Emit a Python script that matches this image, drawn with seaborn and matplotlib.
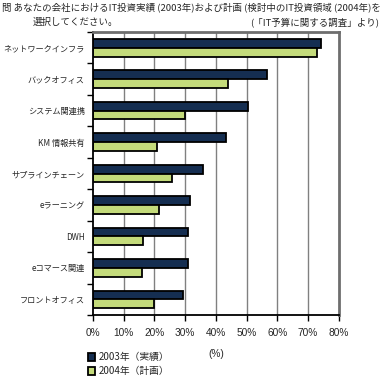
import pandas as pd
import matplotlib
matplotlib.use("Agg")
import matplotlib.pyplot as plt
import seaborn as sns
from matplotlib.ticker import FixedLocator, PercentFormatter

# Categories and values (percent)
categories = ["ネットワークインフラ", "バックオフィス", "システム関連携", "KM 情報共有",
              "サプラインチェーン", "eラーニング", "DWH", "eコマース関連", "フロントオフィス"]
actual_2003 = [74.3, 56.5, 50.3, 43.2, 35.7, 31.7, 31.0, 30.8, 29.2]
plan_2004 = [72.9, 44.0, 29.9, 20.8, 25.6, 21.6, 16.2, 15.9, 20.0]
series_names = ["2003年（実績）", "2004年（計画）"]
colors = ["#0b2d5b", "#cceb6b"]

df = pd.DataFrame({
    "category": categories * 2,
    "value": actual_2003 + plan_2004,
    "series": [series_names[0]] * len(categories) + [series_names[1]] * len(categories),
})

sns.set_style("white")
plt.rcParams["font.family"] = ["Noto Sans CJK JP", "DejaVu Sans"]

fig = plt.figure(figsize=(3.89, 3.88), dpi=100)
ax = fig.add_axes([0.239, 0.188, 0.632, 0.7295])

sns.barplot(data=df, x="value", y="category", hue="series", order=categories,
            hue_order=series_names, palette=colors, orient="h", width=0.56,
            edgecolor="black", linewidth=1.3, ax=ax, legend=True)

ax.set_xlim(0, 80)
ax.set_ylim(len(categories) - 0.5, -0.5)

# vertical gridlines
ax.xaxis.set_major_locator(FixedLocator(range(0, 81, 10)))
ax.xaxis.set_major_formatter(PercentFormatter(decimals=0))
for v in range(10, 80, 10):
    ax.axvline(v, color="#808080", lw=1.0, zorder=0)

# category boundary ticks on the left
ax.yaxis.set_minor_locator(FixedLocator([i + 0.5 for i in range(-1, len(categories))]))
ax.tick_params(axis="y", which="major", length=0, pad=6, labelsize=5.9)
ax.tick_params(axis="y", which="minor", left=True, length=4, width=1, color="black")
ax.tick_params(axis="x", bottom=True, length=4, width=1, color="black", labelsize=7.3, pad=5)
for lbl in ax.get_xticklabels():
    lbl.set_family(["Liberation Sans", "DejaVu Sans"])

for side in ["left", "bottom"]:
    ax.spines[side].set_color("black")
    ax.spines[side].set_linewidth(1.3)
for side in ["top", "right"]:
    ax.spines[side].set_color("#6e6e6e")
    ax.spines[side].set_linewidth(2.0)

ax.set_ylabel("")
ax.set_xlabel("(%)", fontsize=7.3, labelpad=8, family=["Liberation Sans", "DejaVu Sans"])

handles, labels = ax.get_legend_handles_labels()
ax.legend(handles, labels, loc="upper left", bbox_to_anchor=(0.225, 0.092),
          bbox_transform=fig.transFigure, frameon=False, fontsize=7,
          handlelength=0.8, handleheight=0.8, handletextpad=0.3,
          labelspacing=0.4, borderaxespad=0, borderpad=0)

fig.text(0.006, 0.995, "問 あなたの会社におけるIT投資実績 (2003年)および計画 (検討中のIT投資領域 (2004年)を",
         fontsize=6.8, va="top", ha="left")
fig.text(0.085, 0.955, "選択してください。", fontsize=6.8, va="top", ha="left")
fig.text(0.975, 0.955, "(「IT予算に関する調査」より)", fontsize=6.8, va="top", ha="right")

fig.savefig("out.png", dpi=100)
